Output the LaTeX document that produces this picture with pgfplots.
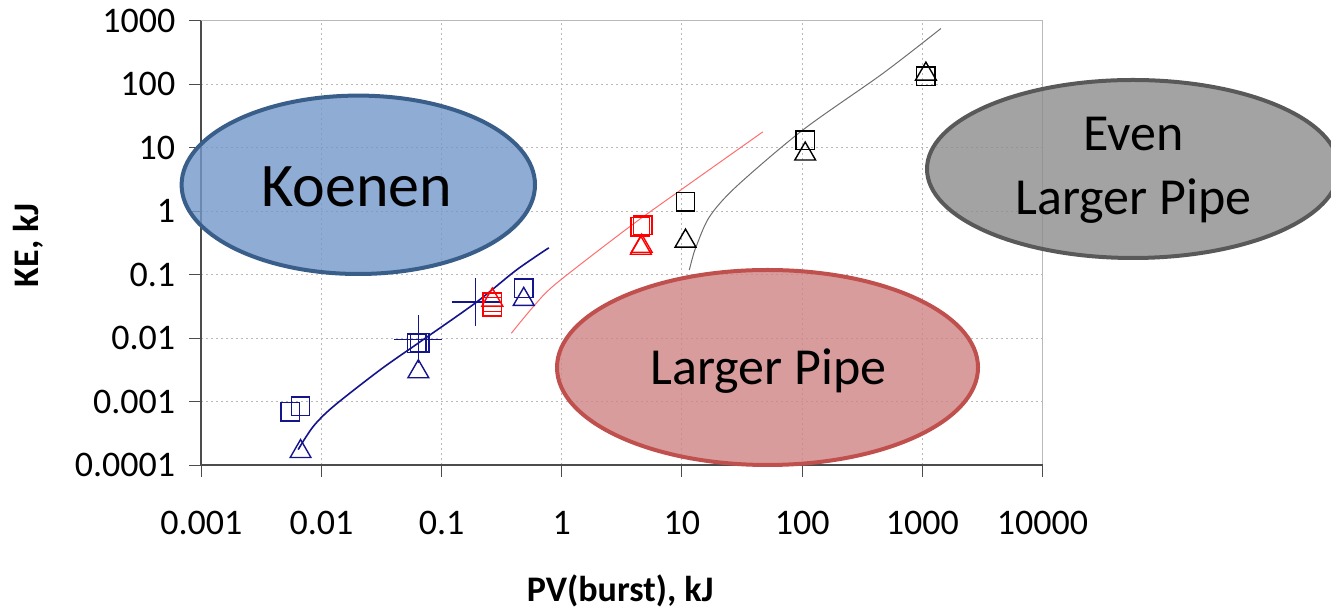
\documentclass[border=0pt]{standalone}
\usepackage{fontspec}
\setmainfont{Carlito}
\usepackage{pgfplots}
\pgfplotsset{compat=1.18}
\definecolor{kblue}{RGB}{20,20,140}
\definecolor{kred}{RGB}{255,0,0}
\definecolor{lred}{RGB}{255,110,110}
\definecolor{lgray}{RGB}{110,110,110}
\definecolor{bfill}{RGB}{114,151,201}
\definecolor{bdraw}{RGB}{58,94,138}
\definecolor{rfill}{RGB}{208,131,131}
\definecolor{rdraw}{RGB}{192,80,77}
\definecolor{gfill}{RGB}{140,140,140}
\definecolor{gdraw}{RGB}{89,89,89}
\begin{document}
\begin{tikzpicture}
\useasboundingbox (0pt,0pt) rectangle (665.5pt,304.5pt);
\clip (0pt,0pt) rectangle (665.5pt,304.5pt);
\begin{axis}[
  at={(100.65pt,72pt)}, anchor=south west,
  scale only axis, width=420.6pt, height=222.15pt,
  xmode=log, ymode=log,
  xmin=1e-3, xmax=1e4, ymin=1e-4, ymax=1e3,
  xtick={1e-3,1e-2,0.1,1,10,100,1000,10000},
  xticklabels={0.001,0.01,0.1,1,10,100,1000,10000},
  ytick={1e-4,1e-3,1e-2,0.1,1,10,100,1000},
  yticklabels={0.0001,0.001,0.01,0.1,1,10,100,1000},
  xminorticks=false, yminorticks=false,
  tick pos=left, tick align=outside,
  major tick length=6pt,
  tick style={black!70, line width=0.5pt},
  grid=major,
  major grid style={gray!55, line width=0.5pt, dash pattern=on 1pt off 1.5pt},
  axis line style={gray!55, line width=0.6pt},
  tick label style={font=\fontsize{18}{20}\selectfont},
  yticklabel style={xshift=-3.5pt},
  xticklabel style={yshift=-13.5pt},
  xlabel={PV(burst), kJ}, ylabel={KE, kJ},
  label style={font=\bfseries\fontsize{18}{20}\selectfont},
  xlabel style={at={(axis description cs:0.498,-0.3061)}, anchor=base},
  ylabel style={at={(axis description cs:-0.1938,0.4950)}, anchor=base},
  clip=false,
]
% fitted curves
\addplot[kblue, line width=0.8pt, no marks, smooth] coordinates {
(0.0064,0.000175) (0.0085,0.0004) (0.0125,0.00083) (0.0306,0.00313)
(0.0637,0.0083) (0.192,0.036) (0.419,0.118) (0.78,0.264)};
\addplot[lred, line width=0.5pt, no marks, smooth] coordinates {
(0.38,0.0119) (0.594,0.033) (0.9,0.0726) (3.66,0.566) (10.2,2.28) (47,17.7)};
\addplot[lgray, line width=0.5pt, no marks, smooth] coordinates {
(11.5,0.118) (12.3,0.191) (13.1,0.274) (16.9,0.81) (28.2,2.42) (101,18.9) (468,147) (1428,754)};
% blue markers
\addplot[kblue, only marks, mark=square, mark size=4.6pt, line width=0.7pt] coordinates {
(0.0055,0.00069) (0.0067,0.00085) (0.062,0.0083) (0.066,0.0084) (0.482,0.0607)};
\addplot[kblue, only marks, mark=triangle, mark size=6pt, line width=0.7pt] coordinates {
(0.0067,0.000163) (0.064,0.00295) (0.482,0.0407)};
\addplot[kblue, only marks, mark=+, mark size=12pt, line width=0.8pt] coordinates {
(0.064,0.0095) (0.192,0.0373)};
% red markers
\addplot[kred, only marks, mark=square, mark size=4.6pt, line width=0.7pt] coordinates {
(0.264,0.0365) (0.264,0.0311) (4.49,0.566) (4.72,0.60)};
\addplot[kred, only marks, mark=triangle, mark size=6pt, line width=0.7pt] coordinates {
(0.264,0.0397) (4.55,0.26) (4.62,0.28)};
% black markers
\addplot[black, only marks, mark=square, mark size=4.6pt, line width=0.7pt] coordinates {
(10.7,1.40) (106,13.1) (1071,134)};
\addplot[black, only marks, mark=triangle, mark size=6pt, line width=0.7pt] coordinates {
(10.7,0.337) (106,7.93) (1071,144)};
\draw[black!70, line width=0.8pt] (rel axis cs:0,1) -- (rel axis cs:0,0) -- (rel axis cs:1,0);
\end{axis}
% annotation ellipses
\draw[line width=2pt, draw=bdraw, fill=bfill, fill opacity=0.8] (179.15pt,212.1pt) ellipse [x radius=88.35pt, y radius=44.6pt];
\node[font=\fontsize{31}{36}\selectfont] at (178.35pt,211.15pt) {Koenen};
\draw[line width=2pt, draw=rdraw, fill=rfill, fill opacity=0.8] (383.75pt,120.75pt) ellipse [x radius=105.25pt, y radius=48.75pt];
\node[font=\fontsize{26}{30}\selectfont, anchor=base] at (384.15pt,112pt) {Larger Pipe};
\draw[line width=2pt, draw=gdraw, fill=gfill, fill opacity=0.8] (566.5pt,220pt) ellipse [x radius=103pt, y radius=44.5pt];
\node[font=\fontsize{26}{30}\selectfont, anchor=base] at (566.65pt,229pt) {Even};
\node[font=\fontsize{26}{30}\selectfont, anchor=base] at (566.65pt,197pt) {Larger Pipe};
\end{tikzpicture}
\end{document}
